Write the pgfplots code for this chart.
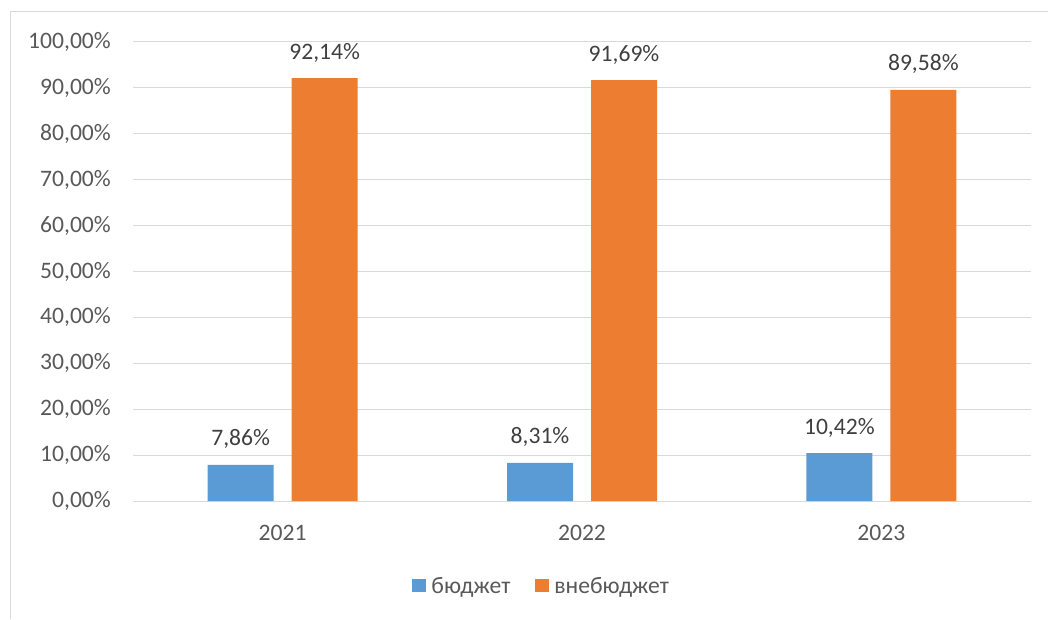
\documentclass[border=0pt]{standalone}
\usepackage{fontspec}
\setmainfont{Carlito}
\usepackage{pgfplots}
\pgfplotsset{compat=1.18}
\pgfkeys{/pgf/number format/assume math mode=true}
\definecolor{cblue}{HTML}{5B9BD5}
\definecolor{corange}{HTML}{ED7D31}
\definecolor{cgrid}{HTML}{D9D9D9}
\definecolor{ctext}{HTML}{595959}
\definecolor{clabel}{HTML}{404040}
\newcommand{\cfont}{\fontsize{23.6}{28}\selectfont}
\begin{document}
\begin{tikzpicture}
\path[use as bounding box] (0pt,0pt) rectangle (1048pt,619pt);
\draw[cgrid, line width=1pt] (10pt,0pt) -- (10pt,607pt) -- (1048pt,607pt);
\begin{axis}[
  at={(133pt,118pt)}, anchor=south west,
  scale only axis, width=898pt, height=459pt,
  xmin=-0.5, xmax=2.5, ymin=0, ymax=100,
  xtick={0,1,2}, xticklabels={2021,2022,2023},
  ytick={0,10,...,100},
  yticklabel={\pgfmathprintnumber[fixed,fixed zerofill,precision=2,use comma]{\tick}\%},
  ymajorgrids, grid style={cgrid, line width=1pt},
  axis line style={draw=none},
  major tick length=0pt,
  tick label style={font=\cfont, text=ctext},
  yticklabel style={anchor=east, inner sep=0pt, xshift=-22pt},
  xticklabel style={anchor=base, inner sep=0pt, yshift=-39pt},
  ybar=18pt, bar width=66pt,
  nodes near coords={\pgfmathprintnumber[fixed,fixed zerofill,precision=2,use comma]{\pgfplotspointmeta}\%},
  every node near coord/.append style={font=\cfont, text=clabel, anchor=base, inner sep=0pt, yshift=19pt},
  clip=false,
  legend columns=2,
  legend style={at={(0.454,-0.185)}, anchor=center, draw=none, fill=none, font=\cfont, text=ctext,
    /tikz/every odd column/.append style={column sep=5pt},
    /tikz/every even column/.append style={column sep=25pt},
    nodes={inner sep=0pt}},
]
\addplot[fill=cblue, draw=none, legend image code/.code={\fill[cblue] (0pt,-6.5pt) rectangle (14pt,6.5pt);}]
  coordinates {(0,7.86) (1,8.31) (2,10.42)};
\addplot[fill=corange, draw=none, legend image code/.code={\fill[corange] (0pt,-6.5pt) rectangle (14pt,6.5pt);}]
  coordinates {(0,92.14) (1,91.69) (2,89.58)};
\legend{бюджет, внебюджет}
\end{axis}
\end{tikzpicture}
\end{document}
